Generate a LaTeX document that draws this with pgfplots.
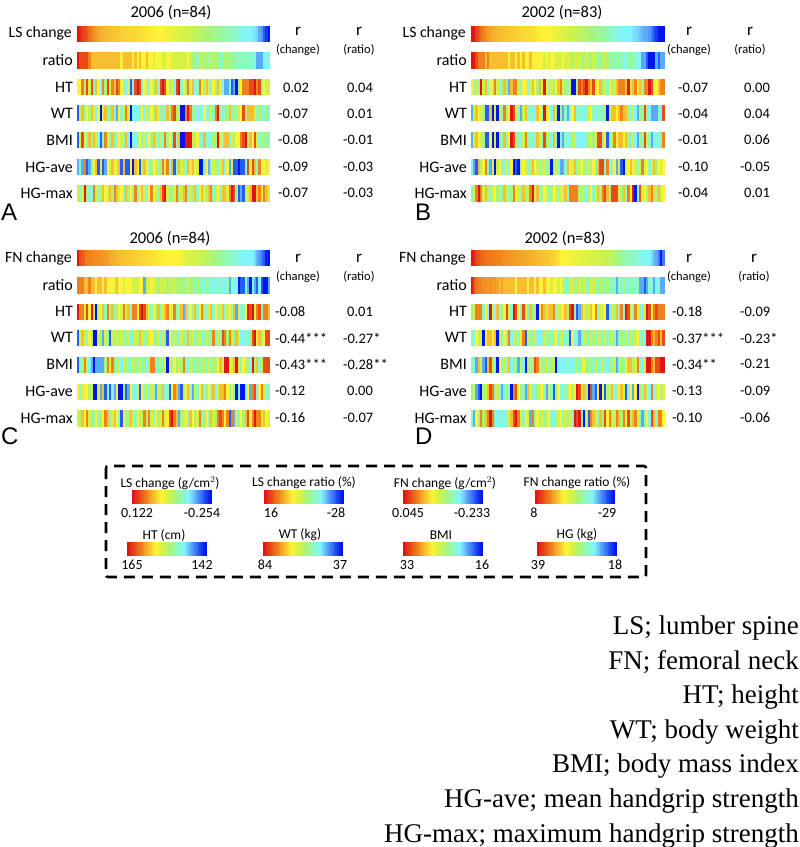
\documentclass[border=0pt]{standalone}
\usepackage{pgfplots}
\usepackage{pgfplotstable}
\usepackage{fontspec}
\pgfplotsset{compat=1.18}
\setmainfont{Carlito}
\newfontfamily\serifnote{Liberation Serif}
\newfontfamily\panelfont{Liberation Sans}

% colour code: 0 red ... 4 yellow ... 8 cyan ... 11 blue; one line per strip
\pgfplotstableread[header=false]{
0 0.3 0.8 1 1.2 1.6 2 2.2 2.4 2.6  2.7 2.8 2.9 3 3 3.1 3.1 3.2 3.2 3.3  3.3 3.4 3.4 3.5 3.5 3.5 3.6 3.6 3.7 3.7  3.8 3.8 3.9 3.9 4 4 4 4 4.2 4.3  4.4 4.5 4.6 4.7 4.8 4.9 5 5 5.1 5.2  5.3 5.4 5.5 5.6 5.7 5.8 5.9 6 6.1 6.2  6.3 6.4 6.5 6.6 6.7 6.8 6.9 7 7.1 7.3  7.5 7.7 7.9 8 8 8 8.1 8.2 8.4 9  9.2 10 10.5 11
0 1 1 1 1 2 3 3 3 3  3 3 3 3 3 3 3 3 3 4  3 3 3 3 4 3 4 3 4 4  3 4 4 5 4 4 4 5 5 4  4 5 5 5 5 5 5 5 4 5  6 6 7 5 6 6 6 7 5 6  6 6 7 7 6 6 6 7 6 7  7 7 7 7 7 7 8 7 9 9  9 8 8 8
4 4 2 6 1 5 1 7 3 4  8 2 6 1 5 2 3 1 2 4  7 8 5 10 8 1 0 1 7 4  5 8 4 6 3 7 1 0 1 4  6 5 8 1 0 7 4 6 2 5  3 8 7 2 4 6 3 5 8 4  6 3 5 8 9 9 7 10 9 11  6 4 2 2 2 1 1 0 2 1  6 4 5 5
10 5 3 7 4 6 3 5 8 4  11 5 3 7 6 3 7 9 4 7  5 2 5 11 8 8 8 6 4 8  5 7 4 6 3 5 7 6 8 3  6 2 1 6 5 11 11 2 0 2  7 6 8 7 8 4 8 7 5 7  2 0 6 8 7 6 3 7 6 7  5 4 1 6 3 3 3 5 7 6  8 7 6 7
10 5 1 4 7 3 6 3 5 8  10 7 2 5 7 3 6 8 4 5  7 3 8 11 7 8 6 4 7 5  8 4 6 3 6 7 5 8 2 6  4 7 1 7 3 11 11 0 0 0  5 6 4 7 8 3 7 8 7 6  6 0 4 7 3 3 7 5 6 4  4 2 1 0 6 3 4 1 5 7  6 7 6 7
9 7 9 2 10 9 6 4 3 10  5 10 9 4 5 3 4 5 3 10  3 10 10 4 11 3 4 10 5 3  4 7 6 4 5 7 6 2 5 2  8 3 10 7 3 5 6 7 3 5  3 4 5 11 11 8 4 9 8 5  6 7 5 3 8 4 9 5 10 10  11 10 10 7 1 5 1 3 7 2  4 4 5 4
5 7 5 0 6 7 8 2 5 7  6 3 4 5 3 6 2 3 5 4  7 3 6 4 6 2 7 4 3 5  8 4 2 4 5 7 3 1 0 5  7 6 5 2 6 5 3 2 7 5  6 3 7 4 3 5 6 3 2 7  5 4 7 3 3 5 2 0 1 7  10 9 10 5 5 3 0 0 3 2  5 2 3 5
}\tabA
\pgfplotstableread[header=false]{
0 0 0.8 1.2 1.6 2 2.2 2.4 2.6 2.7  2.8 2.9 3 3 3.1 3.1 3.2 3.2 3.3 3.3  3.4 3.4 3.5 3.5 3.6 3.6 3.7 3.7 3.8 3.9  4 4 4 4 4.2 4.4 4.5 4.6 4.7 4.8  4.9 5 5.1 5.2 5.3 5.4 5.5 5.6 5.7 5.8  5.9 6 6.1 6.2 6.3 6.5 6.6 6.7 6.8 7  7.2 7.4 7.6 7.8 8 8 8 8 8 8.2  8.3 8.4 8.6 8.8 9 9 9.2 9.6 10 10.5  11 11 11
0 0 1 2 2 2 3 2 3 3  3 3 3 3 3 3 4 3 3 4  3 4 3 4 4 3 4 4 4 4  4 5 4 5 4 4 5 5 5 4  5 5 5 6 5 5 5 6 6 5  6 6 5 6 7 6 6 5 6 7  6 7 7 6 7 8 7 7 6 7  7 8 8 9 9 10 11 11 11 9  10 9 9
4 7 5 6 0 5 3 7 4 5  2 5 7 6 3 6 9 3 2 2  5 7 4 4 8 5 3 4 6 3  5 0 4 7 5 6 4 3 2 5  6 7 5 11 11 6 1 2 1 0  2 3 1 5 4 3 6 5 7 4  6 5 3 2 2 2 3 0 5 3  2 4 3 6 2 2 0 1 5 4  3 2 2
9 5 3 4 5 6 10 10 3 11  5 11 5 7 2 6 4 0 1 5  7 9 5 3 7 8 7 8 3 4  7 0 5 4 8 3 6 11 6 9  7 9 7 4 3 8 7 8 8 7  5 4 7 8 7 7 7 6 11 5  3 3 4 3 2 3 3 6 8 5  8 9 6 7 1 6 8 9 9 9  7 8 1
9 5 3 4 5 6 10 10 4 11  5 11 6 7 3 7 4 0 1 6  7 8 5 2 7 7 7 8 3 5  7 1 6 5 8 3 7 11 7 9  7 8 7 6 5 8 8 8 8 7  6 5 6 5 1 1 6 4 10 7  5 2 4 3 3 4 3 6 8 5  8 9 6 7 1 5 7 9 8 7  8 7 2
8 9 10 3 6 4 2 7 9 5  11 5 4 7 8 5 8 4 11 10  11 6 4 5 7 6 3 4 5 7  5 5 7 6 11 6 5 7 9 9  7 3 4 5 3 7 5 4 6 7  5 6 4 7 3 1 1 7 2 8  6 4 9 5 10 11 5 4 3 4  5 7 5 2 5 4 7 5 3 6  4 5 4
7 5 2 0 2 5 3 6 7 5  4 6 7 6 3 5 7 6 2 4  5 7 3 6 5 2 0 5 3 7  6 4 5 7 6 4 5 7 5 5  3 7 2 2 2 2 6 5 7 8  6 4 7 5 3 6 2 1 3 6  1 1 1 5 6 3 7 2 4 0  11 7 1 5 4 6 3 2 5 6  3 5 4
}\tabB
\pgfplotstableread[header=false]{
0 1 1.3 1.6 2 2 2.1 2.1 2.2 2.2  2.3 2.3 2.4 2.5 2.6 2.7 2.8 2.9 3 3  3.1 3.1 3.2 3.2 3.3 3.3 3.4 3.4 3.5 3.5  3.6 3.6 3.7 3.7 3.8 3.8 3.9 3.9 4 4  4 4 4 4 4.1 4.3 4.5 4.7 4.8 4.9  5 5 5.1 5.2 5.3 5.4 5.5 5.7 5.9 6  6.1 6.3 6.5 6.6 6.8 7 7 7.1 7.3 7.5  7.7 7.9 8 8 8 8 8 8.4 8.8 9.2  9.6 10 10.8 11
2 2 2 3 3 2 3 3 4 3  3 4 3 4 4 4 5 3 4 4  5 4 4 4 5 5 5 4 4 9  5 5 4 5 5 6 5 5 5 6  5 6 5 6 6 6 6 7 5 6  6 7 6 7 7 8 6 7 7 8  7 8 7 8 8 7 9 7 8 8  11 10 10 8 9 11 8 9 10 8  10 11 11 9
0 2 2 5 1 4 0 6 11 5  4 3 7 2 5 3 7 6 4 5  2 5 3 7 2 2 4 1 0 1  3 5 7 4 6 3 7 5 3 2  4 5 2 7 6 3 9 3 7 4  6 3 7 4 2 6 8 5 3 7  4 7 5 3 8 5 4 7 3 9  5 8 7 4 0 1 0 4 2 1  7 2 2 3
10 5 3 5 7 4 6 11 11 5  6 9 5 7 10 5 6 5 6 5  7 6 5 8 7 5 6 3 5 7  6 5 4 7 6 5 8 5 6 10  4 7 5 6 8 5 6 7 3 6  5 7 6 5 8 7 5 6 7 2  7 5 7 1 2 6 2 5 7 3  5 8 8 7 8 6 1 0 4 3  6 4 1 1
10 7 6 2 5 8 9 11 9 9  9 9 6 2 5 2 6 7 5 8  5 6 7 8 5 6 7 5 7 6  8 6 2 2 7 7 6 7 5 11  5 7 4 6 5 6 2 7 8 5  6 7 6 8 5 6 7 5 7 6  6 4 3 5 0 0 4 5 3 0  5 7 4 6 6 8 0 6 3 7  5 1 1 1
4 7 5 4 4 6 5 11 11 5  9 3 10 7 10 8 9 4 11 11  6 10 9 4 7 8 5 10 4 7  5 8 5 7 9 5 6 3 8 7  10 4 2 3 9 10 5 4 3 7  9 5 7 4 3 8 6 4 7 3  8 5 3 3 2 4 7 4 7 11  8 11 11 7 4 9 2 1 8 4  2 5 8 7
5 6 3 4 2 5 7 6 4 7  6 4 2 3 7 5 3 4 7 10  4 7 6 3 5 7 4 6 5 2  6 2 5 7 4 6 5 2 5 4  1 0 2 3 9 6 5 4 7 3  4 6 5 2 7 6 4 7 3 5  6 2 1 2 4 2 10 2 9 5  7 4 6 3 1 4 2 0 2 2  5 3 4 5
}\tabC
\pgfplotstableread[header=false]{
0 0.3 1 1.2 1.4 1.6 1.7 1.8 1.8 1.9  1.9 2 2 2.1 2.2 2.3 2.3 2.4 2.4 2.5  2.5 2.6 2.6 2.7 2.7 2.8 2.8 2.9 2.9 3  3 3.1 3.1 3.2 3.3 3.4 3.5 3.7 4 4  4.1 4.2 4.3 4.4 4.5 4.6 4.7 4.7 4.8 4.8  4.9 4.9 5 5 5.1 5.1 5.2 5.3 5.4 5.5  5.6 5.8 6 6.2 6.4 6.6 6.8 7 7 7.1  7.2 7.4 7.6 7.8 8 8 8 8.3 8.7 9  9.6 11 9.6
0 1 1.7 2 2 2.2 2.2 2.4 2.2 2.5  2.4 2.6 3 2.6 3 3 3 3 3 4  3 3 3 3 4 3 3 4 3 4  4 3 4 4 5 4 4 5 4 5  7 7 5 5 6 6 5 6 5 7  7 5 5 7 6 6 6 7 6 7  7 7 9 7 7 6 8 7 7 7  7 7 9 9 10 9 7 8 9 8  7 9 9
6 5 2 2 2 7 4 8 0 5  8 3 7 6 4 1 5 7 0 1  4 7 1 5 7 3 6 6 11 4  2 3 5 3 3 2 7 5 5 4  3 6 1 0 7 10 9 3 4 6  5 3 4 2 7 5 5 4 10 7  5 6 3 7 2 7 0 1 5 7  2 4 7 8 5 0 1 4 2 1  2 2 2
7 8 4 5 5 11 4 3 3 4  3 11 5 7 4 6 2 8 5 6  7 4 2 10 5 7 6 5 8 8  7 5 7 6 7 5 4 8 5 6  7 7 10 4 8 7 9 7 5 6  7 5 6 7 5 6 7 5 7 6  5 7 9 7 6 7 5 8 5 7  5 4 8 6 8 0 0 2 3 2  1 3 1
7 8 9 3 5 9 10 3 1 5  7 11 4 7 5 7 3 8 6 7  9 5 8 11 5 7 6 1 2 5  7 6 5 7 6 5 11 8 8 8  8 7 8 8 7 6 7 5 4 6  7 6 7 5 7 8 5 7 8 6  7 5 9 7 6 7 4 3 3 6  5 2 7 8 5 0 0 2 3 1  1 0 0
6 5 9 10 11 6 5 3 1 2  7 5 8 9 8 6 7 11 2 1  4 6 7 9 3 5 7 8 6 5  4 7 9 5 7 10 6 4 7 8  7 5 4 6 4 0 1 5 3 6  11 1 9 10 4 11 4 10 6 5  3 8 7 4 3 5 10 7 4 9  4 11 5 7 3 5 8 2 8 5  4 6 5
7 9 4 6 2 6 3 2 0 2  7 8 8 7 8 7 5 3 1 0  2 5 7 4 5 9 2 7 4 6  5 7 5 4 7 8 6 5 4 7  5 6 5 7 0 1 0 7 11 5  10 2 3 5 7 3 6 1 4 2  6 5 2 3 6 2 4 1 6 3  2 5 7 9 7 4 8 1 3 7  2 2 4
}\tabD
% legend colour bars
\pgfplotstableread[header=false]{
0 0.25 0.5 0.75 1 1.25 1.5 1.75 2 2.25 2.5 2.75 3 3.25 3.5 3.75 4 4.25 4.5 4.75 5 5.25 5.5 5.75 6 6.25 6.5 6.75 7 7.25 7.5 7.75 8 8.25 8.5 8.75 9 9.25 9.5 9.75 10 10.25 10.5 10.75 11
}\tabBar
\pgfplotstabletranspose\tabAt{\tabA}
\pgfplotstabletranspose\tabBt{\tabB}
\pgfplotstabletranspose\tabCt{\tabC}
\pgfplotstabletranspose\tabDt{\tabD}
\pgfplotstabletranspose\tabBart{\tabBar}

% table, column, left x, centre y, cell width, half height
\newcommand\strip[6]{%
  \addplot[scatter, only marks, mark=|, mark size=#6pt, mark options={line width=#5pt+0.5pt},
    scatter/use mapped color={draw=mapped color,fill=mapped color},
    point meta=explicit]
    table[x expr={#3+(\coordindex+0.5)*#5}, y expr={#4}, meta=#2]{#1};
}
\newcommand\panel[4]{% table, left x, cell width, y of first strip
  \strip{#1}{0}{#2}{#4+0}{#3}{8}
  \strip{#1}{1}{#2}{#4+27}{#3}{8.5}
  \strip{#1}{2}{#2}{#4+53.5}{#3}{8}
  \strip{#1}{3}{#2}{#4+79.5}{#3}{8}
  \strip{#1}{4}{#2}{#4+106.5}{#3}{8}
  \strip{#1}{5}{#2}{#4+133.5}{#3}{8}
  \strip{#1}{6}{#2}{#4+160}{#3}{8.5}
}
\newcommand\names[3]{% right x, top y, first name
  \node[anchor=east,inner sep=0pt,font=\fontsize{15.7}{15.7}\selectfont] at (axis cs:#1-1,#2) {#3};
  \node[anchor=east,inner sep=0pt,font=\fontsize{16}{16}\selectfont] at (axis cs:#1,#2+27) {ratio};
  \node[anchor=east,inner sep=0pt,font=\fontsize{16}{16}\selectfont] at (axis cs:#1,#2+53.5) {HT};
  \node[anchor=east,inner sep=0pt,font=\fontsize{16}{16}\selectfont] at (axis cs:#1,#2+79.5) {WT};
  \node[anchor=east,inner sep=0pt,font=\fontsize{16}{16}\selectfont] at (axis cs:#1,#2+106.5) {BMI};
  \node[anchor=east,inner sep=0pt,font=\fontsize{16}{16}\selectfont] at (axis cs:#1,#2+133.5) {HG-ave};
  \node[anchor=east,inner sep=0pt,font=\fontsize{16}{16}\selectfont] at (axis cs:#1,#2+160) {HG-max};
}
\newcommand\rv[3]{\node[anchor=west,inner sep=0pt,font=\fontsize{14.5}{14.5}\selectfont] at (axis cs:#1,#2) {#3};}
\newcommand\ctext[4]{\node[inner sep=0pt,font=\fontsize{#1}{#1}\selectfont] at (axis cs:#2,#3) {#4};}
\newcommand\rhead[3]{% centre x 1, centre x 2, y of r
  \ctext{17}{#1}{#3}{r}\ctext{17}{#2}{#3}{r}
  \ctext{12.5}{#1}{#3+19}{(change)}\ctext{12.5}{#2}{#3+19}{(ratio)}
}
\newcommand\cbar[8]{% left x, title centre x, centre y, title, low label centre, low, high centre, high
  \strip{\tabBart}{0}{#1}{#3}{1.77}{7}
  \ctext{13.5}{#2}{#3-14}{#4}
  \ctext{14}{#5}{#3+16}{#6}
  \ctext{14}{#7}{#3+16}{#8}
}
\newcommand\note[2]{\node[anchor=base east,inner sep=0pt,font=\serifnote\fontsize{27}{27}\selectfont] at (axis cs:799,#1) {#2};}
\newcommand\plabel[3]{\node[anchor=west,inner sep=0pt,font=\panelfont\fontsize{24}{24}\selectfont] at (axis cs:#1,#2) {#3};}

\begin{document}
\begin{tikzpicture}
\path[use as bounding box] (0,0) rectangle (800pt,847pt);
\begin{axis}[
    at={(0pt,0pt)}, anchor=south west,
    width=800pt, height=847pt, scale only axis,
    xmin=0, xmax=800, ymin=0, ymax=847, y dir=reverse,
    axis lines=none, clip=false,
    colormap={ref}{rgb255=(225,20,20) rgb255=(232,75,25) rgb255=(240,130,30) rgb255=(248,190,50)
      rgb255=(255,242,55) rgb255=(212,242,70) rgb255=(170,245,120) rgb255=(140,250,190)
      rgb255=(130,245,250) rgb255=(90,170,250) rgb255=(40,90,245) rgb255=(0,20,235)},
    point meta min=0, point meta max=11,
]
\panel{\tabAt}{77}{2.3}{33.5}
\panel{\tabBt}{471}{2.337}{33.5}
\panel{\tabCt}{77}{2.3}{258}
\panel{\tabDt}{471}{2.337}{258}

\names{73}{33.5}{LS change}
\names{467}{33.5}{LS change}
\names{73}{258}{FN change}
\names{467}{258}{FN change}

\ctext{16.5}{171}{13}{2006 (n=84)}
\ctext{16.5}{562}{13}{2002 (n=83)}
\ctext{16.5}{170}{239}{2006 (n=84)}
\ctext{16.5}{565}{239}{2002 (n=83)}

\rhead{298}{359}{31}
\rhead{689}{750}{31}
\rhead{298}{359}{258}
\rhead{689}{754}{258}

\rv{283}{88}{0.02}\rv{347}{88}{0.04}
\rv{278}{114}{-0.07}\rv{347}{114}{0.01}
\rv{278}{140}{-0.08}\rv{343}{140}{-0.01}
\rv{278}{167}{-0.09}\rv{343}{167}{-0.03}
\rv{278}{193}{-0.07}\rv{343}{193}{-0.03}

\rv{678}{88}{-0.07}\rv{744}{88}{0.00}
\rv{678}{114}{-0.04}\rv{744}{114}{0.04}
\rv{678}{140}{-0.01}\rv{744}{140}{0.06}
\rv{678}{167}{-0.10}\rv{740}{167}{-0.05}
\rv{678}{193}{-0.04}\rv{744}{193}{0.01}

\rv{275}{312}{-0.08}\rv{347}{312}{0.01}
\rv{275}{338}{-0.44***}\rv{343}{338}{-0.27*}
\rv{275}{364}{-0.43***}\rv{343}{364}{-0.28**}
\rv{275}{391}{-0.12}\rv{347}{391}{0.00}
\rv{275}{418}{-0.16}\rv{343}{418}{-0.07}

\rv{672}{312}{-0.18}\rv{740}{312}{-0.09}
\rv{672}{338}{-0.37***}\rv{740}{338}{-0.23*}
\rv{672}{364}{-0.34**}\rv{740}{364}{-0.21}
\rv{672}{391}{-0.13}\rv{740}{391}{-0.09}
\rv{672}{418}{-0.10}\rv{740}{418}{-0.06}

\plabel{1}{212}{A}
\plabel{415}{212}{B}
\plabel{1}{436}{C}
\plabel{415}{436}{D}

\draw[line width=2.6pt, dash pattern=on 11pt off 7pt, rounded corners=2pt] (axis cs:106,466) rectangle (axis cs:646,577);
\cbar{132}{170}{497}{LS change (g/cm$^2$)}{137}{0.122}{202}{-0.254}
\cbar{264}{304}{497}{LS change ratio (\%)}{271}{16}{336}{-28}
\cbar{403}{445}{497}{FN change (g/cm$^2$)}{408}{0.045}{472}{-0.233}
\cbar{535}{577}{497}{FN change ratio (\%)}{534}{8}{607}{-29}
\cbar{127}{164}{549}{HT (cm)}{132}{165}{202}{142}
\cbar{263}{300}{549}{WT (kg)}{265}{84}{340}{37}
\cbar{403}{441}{549}{BMI}{407}{33}{482}{16}
\cbar{537}{577}{549}{HG (kg)}{538}{39}{615}{18}

\note{634}{LS; lumber spine}
\note{669}{FN; femoral neck}
\note{703}{HT; height}
\note{738}{WT; body weight}
\note{772}{BMI; body mass index}
\note{807}{HG-ave; mean handgrip strength}
\note{842}{HG-max; maximum handgrip strength}
\end{axis}
\end{tikzpicture}
\end{document}
